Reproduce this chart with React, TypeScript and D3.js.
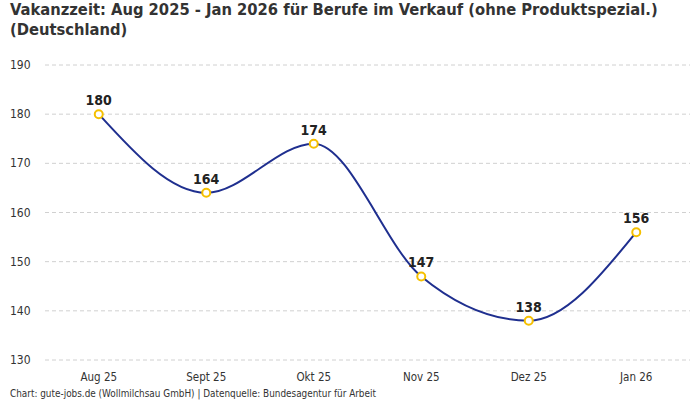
import React from "react";
import * as d3 from "d3";

const categories = ["Aug 25", "Sept 25", "Okt 25", "Nov 25", "Dez 25", "Jan 26"];
const values = [180, 164, 174, 147, 138, 156];
const yTicks = [130, 140, 150, 160, 170, 180, 190];
const titleLines = [
  "Vakanzzeit: Aug 2025 - Jan 2026 für Berufe im Verkauf (ohne Produktspezial.)",
  "(Deutschland)",
];
const footer = "Chart: gute-jobs.de (Wollmilchsau GmbH) | Datenquelle: Bundesagentur für Arbeit";

const W = 700;
const H = 400;
const FONT = "'Liberation Sans Narrow', 'DejaVu Sans Condensed', Roboto, sans-serif";

export default function App() {
  const x = d3.scaleBand<string>().domain(categories).range([45, 690]);
  const y = d3.scaleLinear().domain([130, 190]).range([360, 65]);
  const cx = (c: string) => (x(c) as number) + x.bandwidth() / 2;
  const line = d3
    .line<number>()
    .x((_, i) => cx(categories[i]))
    .y((v) => y(v))
    .curve(d3.curveMonotoneX);

  return (
    <svg
      width={W}
      height={H}
      style={{ position: "absolute", left: 0, top: 0, fontFamily: FONT }}
    >
      <rect width={W} height={H} fill="#fff" />
      {titleLines.map((t, i) => (
        <text key={i} x={10} y={15 + i * 20} fontSize={16.4} fontWeight="bold" fill="#333">
          {t}
        </text>
      ))}
      {yTicks.map((t) => (
        <g key={t}>
          <line
            x1={45}
            x2={690}
            y1={y(t)}
            y2={y(t)}
            stroke="#d0d0d0"
            strokeDasharray="4,3"
            strokeWidth={1}
          />
          <text x={10} y={y(t) + 4} fontSize={12} fill="#333">
            {t}
          </text>
        </g>
      ))}
      {categories.map((c) => (
        <text key={c} x={cx(c)} y={381} fontSize={11.5} fill="#333" textAnchor="middle">
          {c}
        </text>
      ))}
      <path d={line(values) || ""} fill="none" stroke="#1f2f8f" strokeWidth={2} />
      {values.map((v, i) => (
        <g key={i}>
          <circle cx={cx(categories[i])} cy={y(v)} r={4} fill="#fff" stroke="#f5c000" strokeWidth={2} />
          <text
            x={cx(categories[i])}
            y={y(v) - 9}
            fontSize={14}
            fontWeight="bold"
            fill="#222"
            textAnchor="middle"
          >
            {v}
          </text>
        </g>
      ))}
      <text x={10} y={397} fontSize={9.9} fill="#333">
        {footer}
      </text>
    </svg>
  );
}
